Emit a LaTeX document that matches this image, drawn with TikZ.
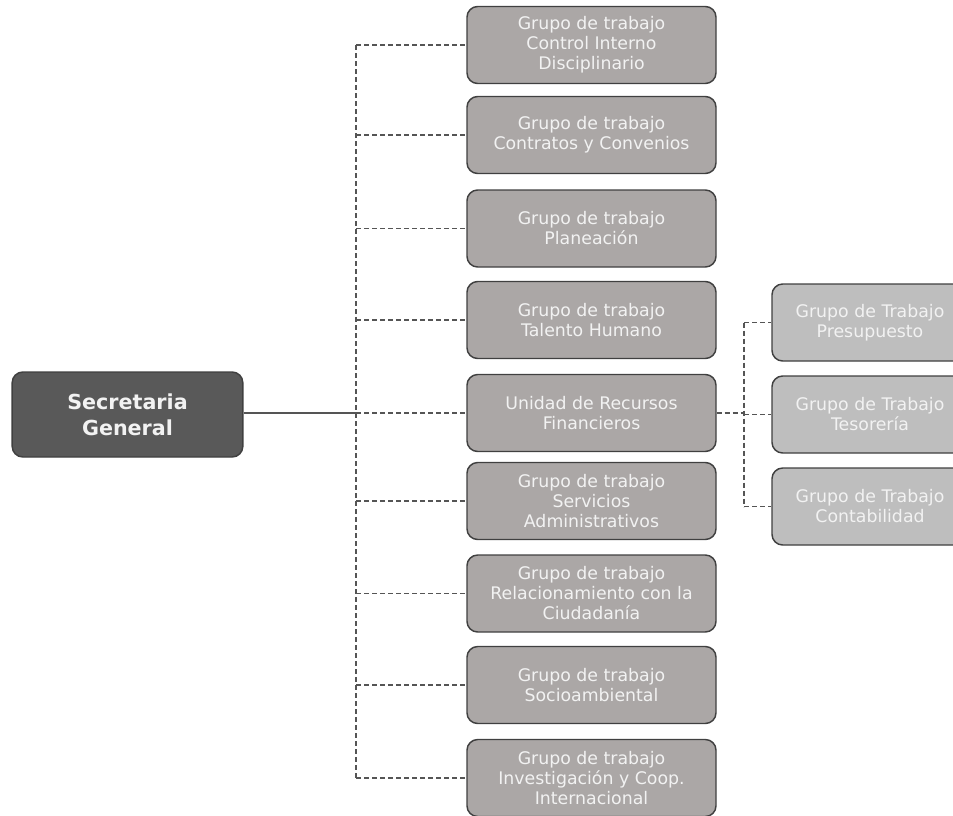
\documentclass[tikz,border=0pt]{standalone}
\usepackage{fontspec}
\setmainfont{DejaVu Sans}
\usetikzlibrary{positioning}
\definecolor{topbox}{RGB}{89,89,89}
\definecolor{midbox}{RGB}{171,167,166}
\definecolor{subbox}{RGB}{190,190,190}
\definecolor{edgecol}{RGB}{64,64,64}
\definecolor{linkcol}{RGB}{85,85,85}

\begin{document}
\begin{tikzpicture}[x=0.75pt,y=-0.75pt,
    box/.style={draw=edgecol,line width=1.1pt,rounded corners=8pt,text=white!95!black,
        align=center,inner sep=0pt,font=\fontsize{13}{15}\selectfont},
    headbox/.style={box,fill=topbox,minimum width=173pt,minimum height=63.75pt,
        font=\fontsize{15.5}{19.5}\selectfont\bfseries},
    midgroup/.style={box,fill=midbox,minimum width=186.75pt,minimum height=57.75pt},
    subgroup/.style={box,fill=subbox,minimum width=147pt,minimum height=57.75pt},
    link/.style={draw=linkcol,line width=0.9pt,dash pattern=on 3.75pt off 2.25pt}]

    \useasboundingbox (0,0) rectangle (953,815);

    \node[headbox] (sg) at (127.5,414.5) {Secretaria\\General};

    \node[midgroup] (cid) at (591.5,45) {Grupo de trabajo\\Control Interno\\Disciplinario};
    \node[midgroup] (cyc) at (591.5,135) {Grupo de trabajo\\Contratos y Convenios};
    \node[midgroup] (plan) at (591.5,228.5) {Grupo de trabajo\\Planeación};
    \node[midgroup] (th) at (591.5,320) {Grupo de trabajo\\Talento Humano};
    \node[midgroup] (urf) at (591.5,413) {Unidad de Recursos\\Financieros};
    \node[midgroup] (sadm) at (591.5,501) {Grupo de trabajo\\Servicios\\Administrativos};
    \node[midgroup] (rc) at (591.5,593.5) {Grupo de trabajo\\Relacionamiento con la\\Ciudadanía};
    \node[midgroup] (soc) at (591.5,685) {Grupo de trabajo\\Socioambiental};
    \node[midgroup] (inv) at (591.5,778) {Grupo de trabajo\\Investigación y Coop.\\Internacional};

    \node[subgroup] (pres) at (870,322.5) {Grupo de Trabajo\\Presupuesto};
    \node[subgroup] (tes) at (870,414.5) {Grupo de Trabajo\\Tesorería};
    \node[subgroup] (cont) at (870,506.5) {Grupo de Trabajo\\Contabilidad};

    \coordinate (bus) at (356,413);
    \coordinate (subbus) at (744,413);

    \draw[draw=linkcol,line width=0.9pt] (sg.east |- bus) -- (bus);
    \draw[link] (cid.west -| bus) -- (inv.west -| bus);
    \foreach \g in {cid,cyc,plan,th,urf,sadm,rc,soc,inv}
        \draw[link] (\g.west -| bus) -- (\g.west);

    \draw[link] (urf.east) -- (subbus);
    \draw[link] (pres.west -| subbus) -- (cont.west -| subbus);
    \foreach \g in {pres,tes,cont}
        \draw[link] (\g.west -| subbus) -- (\g.west);
\end{tikzpicture}
\end{document}
